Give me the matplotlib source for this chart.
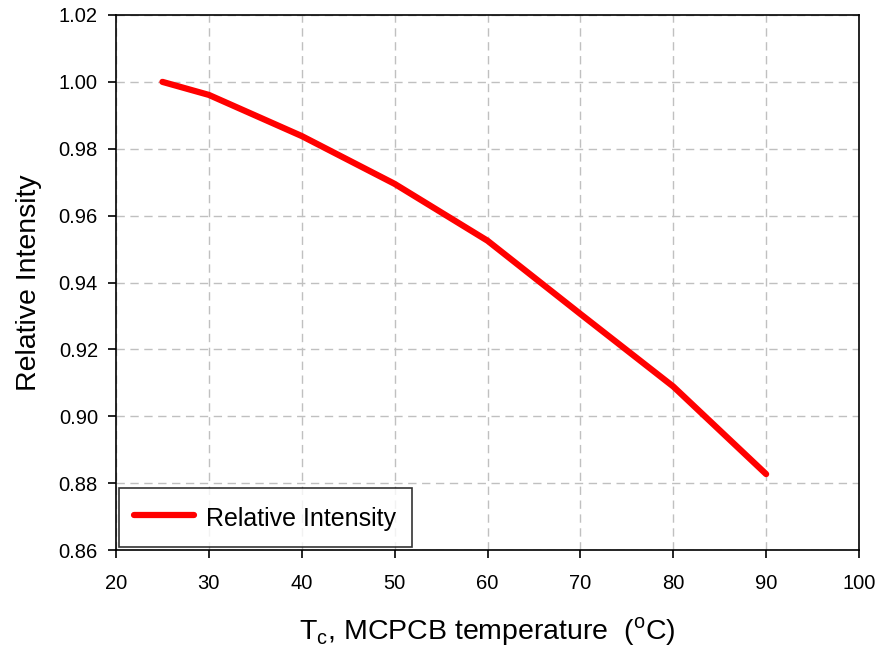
import matplotlib
matplotlib.use("Agg")
import matplotlib.pyplot as plt

plt.rcParams['font.family'] = ['Liberation Sans', 'DejaVu Sans']

temperature = [25, 30, 40, 50, 60, 70, 80, 90]
relative_intensity = [1.000, 0.9961, 0.9838, 0.9695, 0.9525, 0.9306, 0.9089, 0.8827]
x_ticks = [20, 30, 40, 50, 60, 70, 80, 90, 100]
y_ticks = [0.86, 0.88, 0.90, 0.92, 0.94, 0.96, 0.98, 1.00, 1.02]

W, H = 882, 652
fig = plt.figure(figsize=(W / 100, H / 100), dpi=100)
ax = fig.add_axes([116 / W, 1 - 550 / H, (859 - 116) / W, (550 - 15) / H])

ax.plot(temperature, relative_intensity, color='#ff0000', lw=4.5, solid_capstyle='round',
        label='Relative Intensity', zorder=3)

ax.set_xlim(20, 100)
ax.set_ylim(0.86, 1.02)
ax.set_xticks(x_ticks)
ax.set_yticks(y_ticks)
ax.set_xticklabels([str(v) for v in x_ticks])
ax.set_yticklabels([f"{v:.2f}" for v in y_ticks])
ax.grid(True, color='#c0c0c0', linestyle=(0, (6, 4)), linewidth=1.0)
ax.set_axisbelow(True)
ax.tick_params(direction='out', length=6, width=1.2, labelsize=14.5)
ax.tick_params(axis='x', pad=11)
ax.tick_params(axis='y', pad=7)
for s in ax.spines.values():
    s.set_linewidth(1.2)

ax.set_xlabel(r'T$_\mathregular{c}$, MCPCB temperature  ($^\mathregular{o}$C)', fontsize=20.5, labelpad=16)
ax.set_ylabel('Relative Intensity', fontsize=20.5, labelpad=12)

leg = ax.legend(loc='lower left', fontsize=18, frameon=True, fancybox=False,
                borderaxespad=0.12, handlelength=2.4, handleheight=1.4,
                borderpad=0.6, handletextpad=0.5)
leg.get_frame().set_edgecolor('black')
leg.get_frame().set_linewidth(1.2)

fig.savefig('out.png', dpi=100)
